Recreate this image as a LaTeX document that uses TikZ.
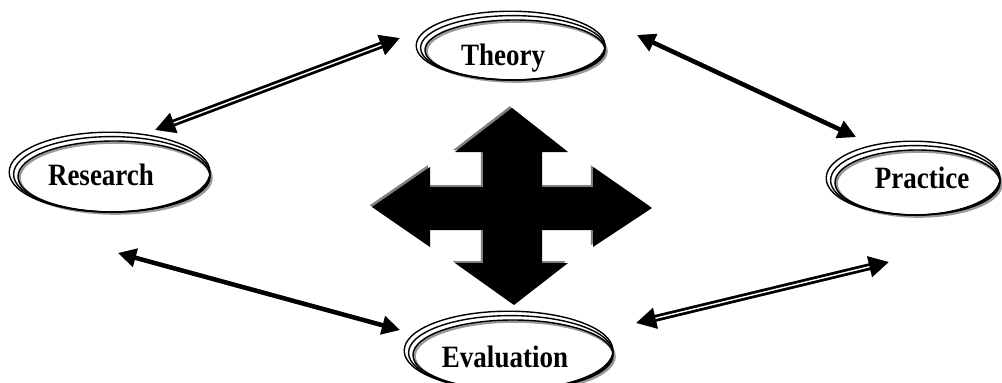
\documentclass[tikz,border=0pt]{standalone}
\usepackage{fontspec}
\setmainfont{Liberation Serif}
\usetikzlibrary{arrows.meta}
\newcommand{\tallbox}[1]{\scalebox{1}[1.15]{#1}}
\begin{document}
\begin{tikzpicture}[x=1pt,y=-1pt,
  lbl/.style={font=\fontsize{27}{30}\selectfont\bfseries, anchor=base, inner sep=0pt},
  ring/.style={line width=1.4pt, draw=black},
  ringshade/.style={line width=3pt, draw=black!40},
  solidarr/.style={line width=4.4pt, {Triangle[length=18pt,width=18pt]}-{Triangle[length=18pt,width=18pt]}},
  stripearr/.style={line width=6.8pt, {Triangle[length=20pt,width=20pt]}-{Triangle[length=20pt,width=20pt]}},
  stripe/.style={draw=white, line width=1.4pt}
]
\useasboundingbox (0,0) rectangle (1002,383);

% ---- label nodes
\node[lbl] (theory) at (503,65) {\tallbox{Theory}};
\node[lbl] (research) at (101,185) {\tallbox{Research}};
\node[lbl] (practice) at (922,188) {\tallbox{Practice}};
\node[lbl] (evaluation) at (505,367) {\tallbox{Evaluation}};

% ---- multi-line ellipses
\foreach \cx/\cy/\rx/\ry in {515/50/90/30, 114/176.5/96/35.5, 917.5/182.5/82.5/32.5, 513/355/100/35}{
  \draw[ringshade] (\cx+1.3,\cy+1.3) ellipse [x radius=\rx pt, y radius=\ry pt];
  \foreach \k in {0,1,2}{
    \draw[ring] (\cx-2.2*\k,\cy-2.2*\k) ellipse [x radius=\rx pt+2.2pt*\k, y radius=\ry pt+2.2pt*\k];
  }
}

% ---- connector end points
\coordinate (rt1) at (155,130); \coordinate (rt2) at (400,38);
\coordinate (tp1) at (637,35);  \coordinate (tp2) at (856,137);
\coordinate (re1) at (118,253); \coordinate (re2) at (400,330);
\coordinate (ep1) at (636,323); \coordinate (ep2) at (889,262);

% ---- shadows of connectors
\begin{scope}[shift={(1.8,1.8)}, draw=black!45, black!45]
  \draw[solidarr] (tp1) -- (tp2);
  \draw[solidarr] (re1) -- (re2);
  \draw[stripearr] (rt1) -- (rt2);
  \draw[stripearr] (ep1) -- (ep2);
\end{scope}
% ---- connectors
\draw[solidarr] (tp1) -- (tp2);
\draw[solidarr] (re1) -- (re2);
\draw[stripearr] (rt1) -- (rt2);
\draw[stripe, shorten <=20pt, shorten >=20pt] (rt1) -- (rt2);
\draw[stripearr] (ep1) -- (ep2);
\draw[stripe, shorten <=20pt, shorten >=20pt] (ep1) -- (ep2);

% ---- central four-way arrow
\def\cross{(512,108) -- (568,152) -- (542,152) -- (542,187) -- (593,187) -- (593,167) -- (652,208) -- (593,247) -- (593,230) -- (542,230) -- (542,263) -- (568,263) -- (514,305) -- (455,263) -- (483,263) -- (483,230) -- (430,230) -- (430,247) -- (372,207) -- (430,167) -- (430,187) -- (483,187) -- (483,152) -- (455,152) -- cycle}
\fill[black!50, shift={(-2.2,-1.8)}] \cross;
\fill[black] \cross;
\end{tikzpicture}
\end{document}
